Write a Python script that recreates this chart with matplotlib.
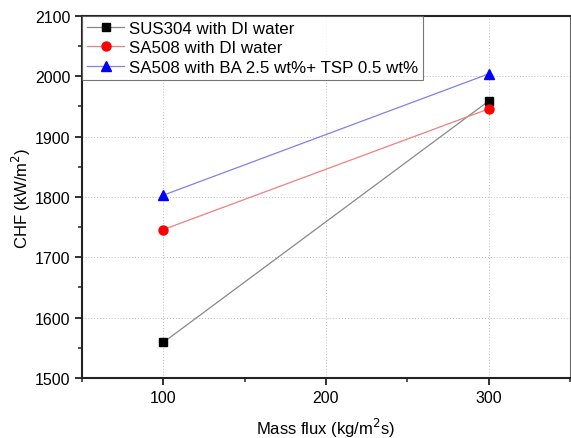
import matplotlib.pyplot as plt
from matplotlib.ticker import MultipleLocator

plt.rcParams['font.family'] = ['Liberation Sans', 'DejaVu Sans']

mass_flux = [100, 300]
sus304_di = [1559, 1959]
sa508_di = [1746, 1946]
sa508_ba_tsp = [1803, 2004]

labels = ['SUS304 with DI water', 'SA508 with DI water',
          'SA508 with BA 2.5 wt%+ TSP 0.5 wt%']

fig = plt.figure(figsize=(5.71, 4.39), dpi=100)
ax = fig.add_axes([0.1436, 0.1367, 0.8546, 0.8246])

ax.plot(mass_flux, sus304_di, color='#888888', lw=0.9, marker='s', ms=6,
        mfc='black', mec='black', label=labels[0])
ax.plot(mass_flux, sa508_di, color='#f08080', lw=0.9, marker='o', ms=6.5,
        mfc='red', mec='red', label=labels[1])
ax.plot(mass_flux, sa508_ba_tsp, color='#8080f0', lw=0.9, marker='^', ms=7,
        mfc='blue', mec='blue', label=labels[2])

ax.set_xlim(50, 350)
ax.set_ylim(1500, 2100)
ax.xaxis.set_major_locator(MultipleLocator(100))
ax.xaxis.set_minor_locator(MultipleLocator(50))
ax.yaxis.set_major_locator(MultipleLocator(100))
ax.yaxis.set_minor_locator(MultipleLocator(50))
ax.set_xticks([100, 200, 300])

ax.grid(True, which='major', ls=(0, (1, 2)), color='#bbbbbb', lw=0.7)
ax.tick_params(which='major', direction='out', length=5, width=1.3, labelsize=11.5, color='#222222')
ax.tick_params(which='minor', direction='out', length=3, width=1.1, color='#222222')
ax.tick_params(top=False, right=False, which='both')

for side in ['left', 'bottom', 'top']:
    ax.spines[side].set_linewidth(1.5)
    ax.spines[side].set_color('#222222')
ax.spines['right'].set_linewidth(0.8)
ax.spines['right'].set_color('#666666')

ax.set_xlabel('Mass flux (kg/m$^2$s)', fontsize=12, labelpad=8)
ax.set_ylabel('CHF (kW/m$^2$)', fontsize=12, labelpad=1)

leg = ax.legend(loc='upper left', fontsize=12.2, frameon=True, fancybox=False,
                borderaxespad=0, handlelength=2.2, handletextpad=0.25,
                labelspacing=0.25, borderpad=0.3)
leg.get_frame().set_edgecolor('#555555')
leg.get_frame().set_linewidth(0.8)

plt.savefig('out.png', dpi=100)
